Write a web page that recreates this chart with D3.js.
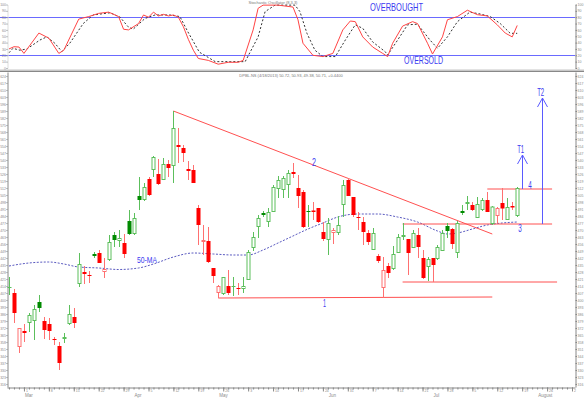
<!DOCTYPE html>
<html>
<head>
<meta charset="utf-8">
<script src="https://cdn.jsdelivr.net/npm/d3@7"></script>
<style>
html, body { margin: 0; padding: 0; background: #fff; }
svg { display: block; font-family: "Liberation Sans", Arial, sans-serif; }
</style>
</head>
<body>
<script>
// daily candles, one per trading day (index = day)
var openP = [412.5,407,353,369,377,379,398,379,376,361.5, 354,361,376,383,416,428,424.5,446,447,428,
    440,465,459,457,479,466,504,500,521,530, 526,520,536,534,555,552,531,530,492,458,
    459,432,407,406,414,413,412.5,411,420,452, 473,487,478,488,511,510,515,528,512,508,
    489.5,489.5,492,468,460,467,467,495,520,503, 483.5,478,467,450,444,412,434,431,447,463,
    461,452,465,442,433,442,441,449,474,471, 447,489,496,495,482,490,500,476,484,497,
    480,494,484];
var highP = [423,411,372,376,387,395,405,383,382,363, 358,367,395,392,447,434,429,448,450,442,
    465,468,470,466,490,487,523,517,523,544, 541,542,540,589,572,555,539,535,495,475,
    473,432,415,423,430,423,417,423,450,468, 485,489,492,515,524,524,530,537,525,510,
    495,498,492,478,482,472,484,520,522,503, 488,483,470,472,446,443,437,454,466,477,
    461,470,472,450,443,442,455,470,477,472, 479,495,504,498,503,502,508,494,493,512,
    502,498,513];
var lowP = [405,377,347,358,368,360,388,361,360,355, 330,357,375,372,413,416,417,442,437,422,
    439,453,453,442,465,465,490,499,504,523, 515,520,523,517,537,538,520,517,455,445,
    437,417,402,405,405,404,405,407,420,449, 462,483,473,488,502,502,502,522,492,472,
    473,480,477,459,445,456,465,483,504,483, 470,455,455,450,437,402,422,430,447,460,
    425,452,442,421,419,418,440,449,462,451, 442,485,490,489,482,489,488,475,477,480,
    480,490,483];
var closeP = [413.5,387,372,367,385,391,392,370,369,360.5, 337,363,386,377,436,426,423.5,444,437,431,
    458,460,462,446,466,482,500,513,505,543, 516,536,532,572,553,547,529,517,475,460,
    438,424,414,423,407,414,411.5,414,448,463, 482,485,488,513,520,522,527,526,504,473,
    488.5,488,478,461,477,470,475,515,504,485, 482.5,468,458,467,439,430,427,446,463,465,
    447,467,453,422,441,435,453,467,469,456, 477,487,498,490,496,500,488,493.5,492,491.5,
    493,492.5,512];

// 50-day moving average
var maDays = [0,4,8,11,14,18,22,26,29,33,37,41,45,48,51,54,57,60,63,66,70,74,78,82,86,88,90,93,96,99,102];
var maVals = [434,437,438,436,433,432,430.5,432,436,443,447,446,445,445,450,457,464,471,477,483,486,486,483,478,469,466,467,471,475,477,478];

// stochastic %K and %D
var kDays = [0,1,2,3,6,8,10,11,14,16,18,20,22,23,24,26,27,28,29,30,31,32,33,34,35,36,37,38,40,42,44,46,47,49,50,51,54,57,58,59,61,63,65,67,68.5,69.5,71,73,75,76,77,79,81,82,84,85,87,88,90,92,94,96,98,99.6,101,102];
var kVals = [30,33.5,33,23,55,47,23,28,77,81,86,88,81,61,60,70,83.5,80,88,82,84.5,82,83.5,80,65,45,28,15,12,6,9,9,12,60,94,99,99,96,76,39,20,18,23,60,74,73,49,33,23,18,39,66,73,70,39,22,49,76,81,91,84,82,68,55,49,67];
var dDays = [0,0.8,2.2,3.6,6.2,7.6,9.2,10.6,12.2,14.9,16.9,20.3,22.3,23.9,24.9,27.3,29.3,32.3,34.3,35.9,38.2,41.4,44.4,47.4,50,51.4,53.4,57.4,58.4,59.8,61.4,63,65.5,67.5,69.5,71,73,75.5,76,78,80,82,84.5,86,88,90,92.5,94.6,96.6,98.6,100.6,102];
var dVals = [24,31,28,30,44,49,39,26,39,70,83.5,87,80,65,61,78,83.5,83.5,81,57,25,10,10,10,49,88.7,99,99,88.7,54.6,28,18,18,44,68,62.5,41,25.7,20.5,44,68,69,44,31,49,73,88,85,81,70,54.6,54.6];

// drawn trend lines: [day, price] -> [day, price]
var lineFrom = [[33, 589], [42, 402], [79, 418], [79, 476], [96, 511]];
var lineTo   = [[97, 466], [97, 403], [110, 418], [109, 476], [109, 511]];
// target arrows: day, base price, target price
var arrowDays  = [103, 107];
var arrowBase  = [511, 476];
var arrowTop   = [545, 602];
// notes
var noteText  = ['1', '2', '3', '4', 'T1', 'T2', '50-MA'];
var noteDay   = [63, 60.8, 102.2, 104.2, 102, 106, 25.7];
var notePrice = [393, 534, 468, 511, 547, 604, 437];
var noteWidth = [3, 4, 3.5, 3.5, 7, 7, 20];

// x axis labels
var weekLabels = ['1','8','15','22','29','5','12','19','26','3','10','17','24','31','7','14','21','28','5','12','19','26','2'];
var months = ['Mar', 'Apr', 'May', 'Jun', 'Jul', 'August'];
var monthDays = [3, 25, 42, 64, 85, 106];

var W = 584, H = 398;
var svg = d3.select('body').append('svg').attr('width', W).attr('height', H);

var x  = d3.scaleLinear().domain([-0.4, 113.6]).range([7, 575]);
var y  = d3.scaleLinear().domain([313, 628]).range([387, 72]);
var ys = d3.scaleLinear().domain([0, 100]).range([68, 4.5]);

var blue = '#3b3bf0';

// ---------- stochastic panel ----------
svg.selectAll('.lvl').data([80, 20]).enter().append('line')
    .attr('x1', 0).attr('x2', 575)
    .attr('y1', function(d) { return Math.round(ys(d)) + 0.5; })
    .attr('y2', function(d) { return Math.round(ys(d)) + 0.5; })
    .attr('stroke', '#6a6aff').attr('stroke-width', 1);

var sLine = d3.line().x(function(d) { return x(d[0]); }).y(function(d) { return ys(d[1]); });
svg.append('path').datum(d3.zip(dDays, dVals)).attr('d', sLine)
    .attr('fill', 'none').attr('stroke', '#333').attr('stroke-width', 1).attr('stroke-dasharray', '2,2');
svg.append('path').datum(d3.zip(kDays, kVals)).attr('d', sLine)
    .attr('fill', 'none').attr('stroke', '#ff4444').attr('stroke-width', 1);

svg.append('text').attr('x', 273).attr('y', 4).attr('text-anchor', 'middle')
    .attr('font-size', 4).attr('fill', '#777').text('Stochastic Oscillator (8,3,3)');
svg.append('text').attr('x', 370).attr('y', 10.5).attr('font-size', 10.5).attr('fill', blue)
    .attr('textLength', 53).attr('lengthAdjust', 'spacingAndGlyphs').text('OVERBOUGHT');
svg.append('text').attr('x', 404).attr('y', 63.5).attr('font-size', 10).attr('fill', blue)
    .attr('textLength', 39).attr('lengthAdjust', 'spacingAndGlyphs').text('OVERSOLD');

function styleAxis(g) {
    g.selectAll('path').attr('stroke', '#888');
    g.selectAll('line').attr('stroke', '#888');
    g.selectAll('text').attr('font-size', 3.5).attr('fill', '#8a8a8a');
}

svg.append('g').attr('transform', 'translate(575.5,0)')
    .call(d3.axisRight(ys).tickValues(d3.range(0, 101, 10)).tickSize(1.5).tickPadding(0.5).tickSizeOuter(0))
    .call(styleAxis);
svg.append('g').attr('transform', 'translate(7.5,0)')
    .call(d3.axisLeft(ys).tickValues(d3.range(0, 101, 10)).tickSize(1).tickPadding(0.5).tickSizeOuter(0))
    .call(styleAxis)
    .call(function(g) { g.select('.domain').attr('stroke', '#ddd'); });

// panel separator
svg.append('rect').attr('x', 0).attr('y', 69.5).attr('width', 584).attr('height', 2).attr('fill', '#c8c8c8');
svg.append('line').attr('x1', 0).attr('x2', 584).attr('y1', 71.5).attr('y2', 71.5).attr('stroke', '#888');

// ---------- price panel ----------
svg.append('text').attr('x', 291).attr('y', 76.5).attr('text-anchor', 'middle')
    .attr('font-size', 4).attr('fill', '#777')
    .text('DPBL.NS (4/18/2013) 50.72, 50.93, 49.38, 50.71, +0.4400');

var priceTicks = d3.range(316, 628, 7);
svg.append('g').attr('transform', 'translate(7.5,0)')
    .call(d3.axisLeft(y).tickValues(priceTicks).tickSize(1).tickPadding(0.5).tickSizeOuter(0))
    .call(styleAxis);
svg.append('g').attr('transform', 'translate(575.5,0)')
    .call(d3.axisRight(y).tickValues(priceTicks).tickSize(1.5).tickPadding(0.5).tickSizeOuter(0))
    .call(styleAxis);

// x axis: daily minor ticks, weekly major ticks, months
var xg = svg.append('g').attr('transform', 'translate(0,387.5)');
xg.call(d3.axisBottom(x).tickValues(d3.range(0, 114)).tickSize(2).tickFormat('').tickSizeOuter(0)).call(styleAxis);
svg.append('g').attr('transform', 'translate(0,387.5)')
    .call(d3.axisBottom(x).tickValues(d3.range(3, 114, 5)).tickSize(4).tickSizeOuter(0)
        .tickFormat(function(d, i) { return weekLabels[i]; }))
    .call(styleAxis)
    .call(function(g) {
        g.select('.domain').remove();
        g.selectAll('text').attr('text-anchor', 'start').attr('dx', 1.5).attr('dy', -3);
    });
svg.selectAll('.month').data(months).enter().append('text')
    .attr('x', function(d, i) { return x(monthDays[i]) + 1; })
    .attr('y', 396.5).attr('font-size', 4.5).attr('fill', '#8a8a8a').text(function(d) { return d; });

// 50-MA
svg.append('path').datum(d3.zip(maDays, maVals))
    .attr('d', d3.line().curve(d3.curveMonotoneX).x(function(d) { return x(d[0]); }).y(function(d) { return y(d[1]); }))
    .attr('fill', 'none').attr('stroke', '#5a5ac0').attr('stroke-width', 1).attr('stroke-dasharray', '2,1.5');

// trend lines
svg.selectAll('.trend').data(lineFrom).enter().append('line')
    .attr('x1', function(d) { return x(d[0]); }).attr('y1', function(d) { return y(d[1]); })
    .attr('x2', function(d, i) { return x(lineTo[i][0]); }).attr('y2', function(d, i) { return y(lineTo[i][1]); })
    .attr('stroke', '#ff5050').attr('stroke-width', 1);

// candles
var data = openP.map(function(o, i) {
    return {
        i: i, o: o, h: highP[i], l: lowP[i], c: closeP[i],
        up: i === 0 || closeP[i] >= closeP[i - 1],
        filled: closeP[i] < o
    };
});
var greenFill = '#008a00', greenLine = '#5cbf5c', redFill = '#ff0000', redLine = '#ff7070';

var cg = svg.selectAll('.candle').data(data).enter().append('g').attr('class', 'candle');
cg.append('line')
    .attr('x1', function(d) { return Math.round(x(d.i)) + 0.5; })
    .attr('x2', function(d) { return Math.round(x(d.i)) + 0.5; })
    .attr('y1', function(d) { return y(d.h); })
    .attr('y2', function(d) { return y(d.l); })
    .attr('stroke', function(d) { return d.up ? greenLine : redLine; });
cg.each(function(d) {
    var g = d3.select(this);
    var cx = Math.round(x(d.i));
    var top = y(Math.max(d.o, d.c)), bot = y(Math.min(d.o, d.c));
    if (bot - top < 1.5) {
        g.append('line').attr('x1', cx - 1.5).attr('x2', cx + 2.5)
            .attr('y1', Math.round(top) + 0.5).attr('y2', Math.round(top) + 0.5)
            .attr('stroke', d.up ? (d.filled ? greenFill : greenLine) : (d.filled ? redFill : redLine));
    } else if (d.filled) {
        g.append('rect').attr('x', cx - 1.5).attr('y', top).attr('width', 4).attr('height', bot - top)
            .attr('fill', d.up ? greenFill : redFill);
    } else {
        g.append('rect').attr('x', cx - 1).attr('y', top + 0.5).attr('width', 3).attr('height', bot - top - 1)
            .attr('fill', '#fff').attr('stroke', d.up ? greenLine : redLine);
    }
});

// target arrows
arrowDays.forEach(function(dd, i) {
    var ax = Math.round(x(dd)) + 0.5, ty = y(arrowTop[i]);
    svg.append('line').attr('x1', ax).attr('x2', ax).attr('y1', y(arrowBase[i])).attr('y2', ty)
        .attr('stroke', '#5a5aff');
    svg.append('path').attr('d', 'M' + (ax - 5) + ',' + (ty + 9) + 'L' + ax + ',' + ty + 'L' + (ax + 5) + ',' + (ty + 9))
        .attr('fill', 'none').attr('stroke', '#5a5aff');
});

// notes
svg.selectAll('.note').data(noteText).enter().append('text')
    .attr('x', function(d, i) { return x(noteDay[i]); })
    .attr('y', function(d, i) { return y(notePrice[i]); })
    .attr('font-size', function(d) { return d === '50-MA' ? 9 : 11; })
    .attr('textLength', function(d, i) { return noteWidth[i]; })
    .attr('lengthAdjust', 'spacingAndGlyphs')
    .attr('fill', blue)
    .text(function(d) { return d; });
</script>
</body>
</html>
